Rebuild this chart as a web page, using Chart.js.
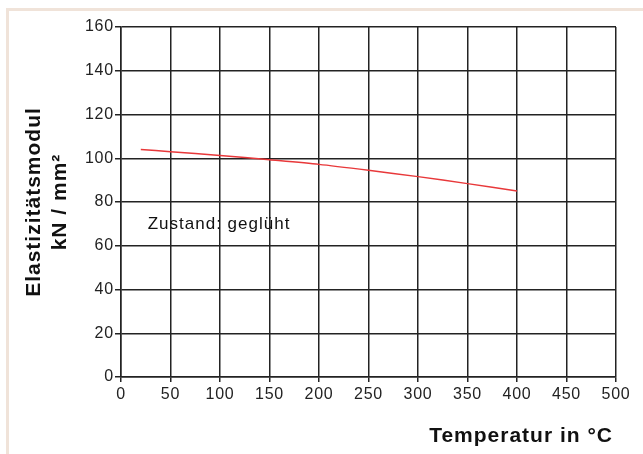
<!DOCTYPE html>
<html>
<head>
<meta charset="utf-8">
<script src="https://cdn.jsdelivr.net/npm/chart.js@4/dist/chart.umd.min.js"></script>
<style>
  html, body { margin: 0; padding: 0; background: #fff; }
  #wrap { position: relative; width: 643px; height: 454px; }
  canvas { display: block; }
</style>
</head>
<body>
<div id="wrap"><canvas id="c" width="643" height="454"></canvas></div>
<script>
// Temperature (°C) and modulus of elasticity (kN/mm²), annealed condition
const temperatures = [20, 50, 100, 150, 200, 250, 300, 350, 400];
const modulus = [104, 103, 101.3, 99.3, 97.2, 94.5, 91.6, 88.4, 85];

const xTicksStep = 50;
const yTicksStep = 20;
const xRange = [0, 500];
const yRange = [0, 160];

const yTitleLines = ['Elastizitätsmodul', 'kN / mm²'];
const xTitle = 'Temperatur in °C';
const noteText = 'Zustand: geglüht';

const points = temperatures.map((t, i) => ({ x: t, y: modulus[i] }));

const gridColor = '#232323';

const decorPlugin = {
  id: 'decor',
  beforeDraw(chart) {
    const ctx = chart.ctx;
    ctx.save();
    ctx.fillStyle = '#fff';
    ctx.fillRect(0, 0, chart.width, chart.height);
    // light frame along top and left
    ctx.fillStyle = '#f0e3d9';
    ctx.fillRect(6, 8, chart.width - 6, 3);
    ctx.fillRect(6, 8, 3, chart.height - 8);
    ctx.restore();
    ctx.letterSpacing = '0.8px';
  },
  afterDraw(chart) {
    const ctx = chart.ctx;
    const xs = chart.scales.x, ys = chart.scales.y;
    const area = chart.chartArea;
    ctx.save();
    ctx.fillStyle = '#111';
    // note inside the plot
    ctx.letterSpacing = '1px';
    ctx.font = '17px "Liberation Sans", Arial, sans-serif';
    ctx.textAlign = 'left';
    ctx.textBaseline = 'alphabetic';
    ctx.fillText(noteText, xs.getPixelForValue(27), ys.getPixelForValue(67.7));

    // y axis title, two rotated lines
    ctx.font = 'bold 21px "Liberation Sans", Arial, sans-serif';
    ctx.letterSpacing = '1px';
    const midY = (area.top + area.bottom) / 2;
    const baselines = [40, 66];
    yTitleLines.forEach((line, i) => {
      ctx.save();
      ctx.translate(baselines[i], midY);
      ctx.rotate(-Math.PI / 2);
      ctx.textAlign = 'center';
      ctx.fillText(line, 0, 0);
      ctx.restore();
    });

    // x axis title
    ctx.textAlign = 'right';
    ctx.fillText(xTitle, area.right - 3, 442);
    ctx.restore();
  }
};

new Chart(document.getElementById('c'), {
  type: 'line',
  data: {
    datasets: [{
      data: points,
      borderColor: '#e8383a',
      borderWidth: 1.5,
      pointRadius: 0,
      tension: 0.25,
      fill: false
    }]
  },
  options: {
    responsive: false,
    animation: false,
    devicePixelRatio: 1,
    layout: { padding: { top: 27, right: 27, left: 0, bottom: 0 } },
    plugins: { legend: { display: false }, tooltip: { enabled: false } },
    scales: {
      x: {
        type: 'linear',
        min: xRange[0], max: xRange[1],
        afterFit(scale) { scale.height = 77; },
        ticks: {
          stepSize: xTicksStep,
          color: '#222',
          padding: 3,
          maxRotation: 0,
          font: { family: '"Liberation Sans", Arial, sans-serif', size: 16 }
        },
        grid: { color: gridColor, lineWidth: 1.5, tickLength: 5, tickColor: gridColor },
        border: { color: gridColor, width: 1.5 }
      },
      y: {
        min: yRange[0], max: yRange[1],
        afterFit(scale) { scale.width = 121; },
        ticks: {
          stepSize: yTicksStep,
          color: '#222',
          padding: 1,
          font: { family: '"Liberation Sans", Arial, sans-serif', size: 16 }
        },
        grid: { color: gridColor, lineWidth: 1.5, tickLength: 6, tickColor: gridColor },
        border: { color: gridColor, width: 1.5 }
      }
    }
  },
  plugins: [decorPlugin]
});
</script>
</body>
</html>
